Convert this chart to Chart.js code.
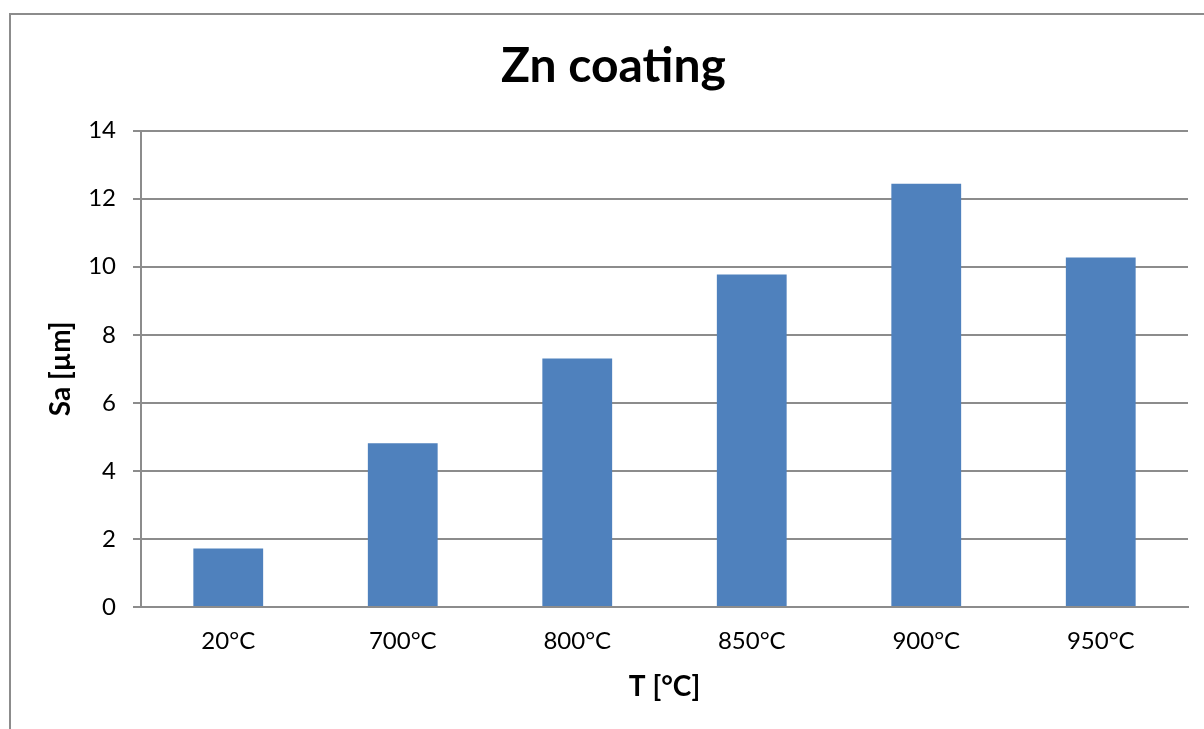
<!DOCTYPE html>
<html>
<head>
<meta charset="utf-8">
<script src="https://cdn.jsdelivr.net/npm/chart.js@4/dist/chart.umd.min.js"></script>
<style>
  html, body { margin: 0; padding: 0; background: #fff; overflow: hidden; }
  #frame { position: absolute; left: 9px; top: 13px; width: 1210px; height: 730px; border: 2px solid #8c8c8c; box-sizing: border-box; }
  #wrap { position: absolute; left: 0; top: 0; width: 1204px; height: 729px; }
</style>
</head>
<body>
<div id="frame"></div>
<div id="wrap"><canvas id="chart"></canvas></div>
<script>
// Data
const categories = ['20°C', '700°C', '800°C', '850°C', '900°C', '950°C'];
const saValues = [1.72, 4.81, 7.3, 9.77, 12.44, 10.27];
const yTicks = [0, 2, 4, 6, 8, 10, 12, 14];

const FONT = 'Lato, "Open Sans", sans-serif';
const GRID = '#8c8c8c';

const ctx = document.getElementById('chart').getContext('2d');
new Chart(ctx, {
  type: 'bar',
  data: {
    labels: categories,
    datasets: [{
      data: saValues,
      backgroundColor: '#4f81bd',
      borderWidth: 0,
      categoryPercentage: 1,
      barPercentage: 0.4
    }]
  },
  options: {
    responsive: true,
    maintainAspectRatio: false,
    animation: false,
    layout: { padding: { left: 39, right: 16, top: 0, bottom: 0 } },
    plugins: {
      legend: { display: false },
      tooltip: { enabled: false },
      title: {
        display: true,
        text: 'Zn coating',
        color: '#000',
        font: { family: FONT, size: 48, weight: 'bold', lineHeight: 1.2 },
        padding: { top: 38, bottom: 35 }
      }
    },
    scales: {
      x: {
        grid: { display: false, drawTicks: false },
        border: { display: true, color: GRID, width: 2 },
        ticks: { color: '#000', font: { family: FONT, size: 24 }, padding: 20, maxRotation: 0 },
        title: {
          display: true,
          text: 'T [°C]',
          color: '#000',
          font: { family: FONT, size: 28, weight: 'bold', lineHeight: 1.2 },
          padding: { top: 0, bottom: 25 }
        },
        afterFit: s => { s.height = 122; }
      },
      y: {
        min: 0,
        max: 14,
        afterBuildTicks: s => { s.ticks = yTicks.map(v => ({ value: v })); },
        grid: { color: GRID, lineWidth: 2, tickLength: 8 },
        border: { display: true, color: GRID, width: 2 },
        ticks: { color: '#000', font: { family: FONT, size: 24 }, padding: 17 },
        title: {
          display: true,
          text: 'Sa [µm]',
          color: '#000',
          font: { family: FONT, size: 28, weight: 'bold', lineHeight: 1.2 },
          padding: { top: 5, bottom: 0 }
        },
        afterFit: s => { s.width = 102; }
      }
    }
  }
});
</script>
</body>
</html>
